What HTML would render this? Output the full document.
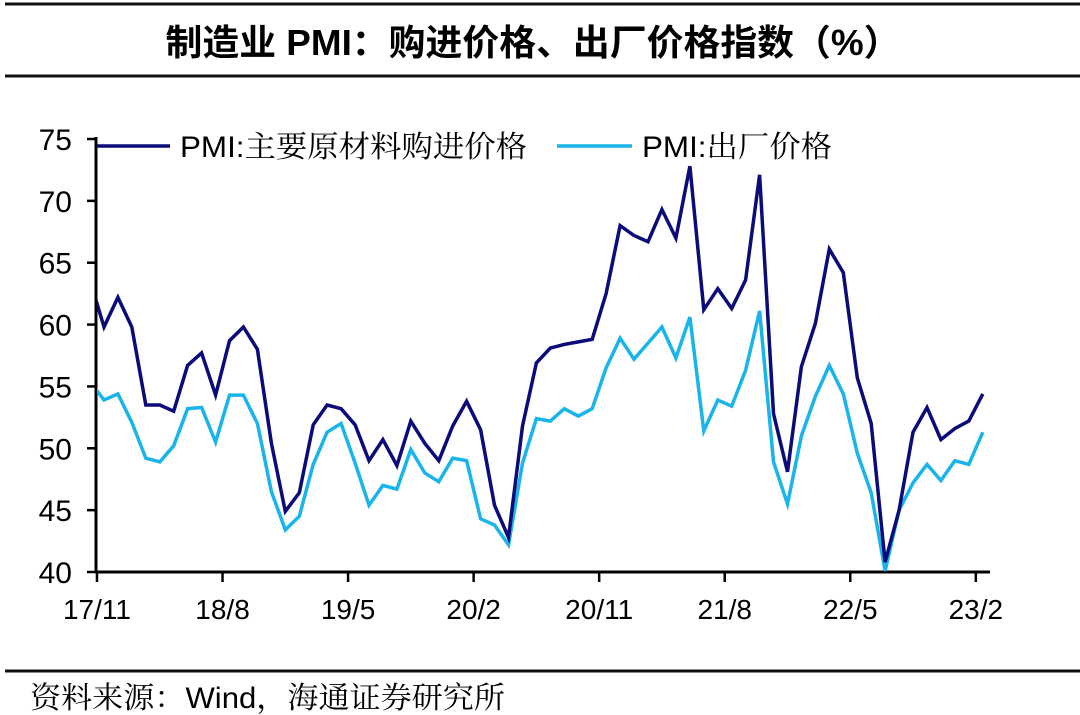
<!DOCTYPE html>
<html><head><meta charset="utf-8"><style>
html,body{margin:0;padding:0;background:#fff;width:1080px;height:715px;overflow:hidden}
svg{display:block}
text{font-family:"Liberation Sans","Noto Sans CJK SC",sans-serif;fill:#000}
.cjk{font-family:"Liberation Sans","Noto Serif CJK SC","Noto Sans CJK SC",serif}
</style></head><body>
<svg id="chart" width="1080" height="715" viewBox="0 0 1080 715">
<line x1="5" y1="4" x2="1080" y2="4" stroke="#111" stroke-width="3"/>
<text x="533" y="55" text-anchor="middle" font-size="36" font-weight="bold" textLength="735" lengthAdjust="spacingAndGlyphs">制造业 PMI：购进价格、出厂价格指数（%）</text>
<line x1="5" y1="76" x2="1080" y2="76" stroke="#111" stroke-width="3"/>
<line x1="5" y1="671" x2="1080" y2="671" stroke="#111" stroke-width="3"/>
<text class="cjk" x="30" y="708" font-size="30" textLength="475" lengthAdjust="spacingAndGlyphs">资料来源：Wind，海通证券研究所</text>
<g id="axes"></g>
<g id="series"></g>
<g>
<line x1="97" y1="146" x2="170" y2="146" stroke="#0b0b7a" stroke-width="3.5"/>
<text class="cjk" x="180" y="157" font-size="30" textLength="347" lengthAdjust="spacingAndGlyphs">PMI:主要原材料购进价格</text>
<line x1="557" y1="146" x2="632" y2="146" stroke="#19b4ea" stroke-width="3.5"/>
<text class="cjk" x="642" y="157" font-size="30" textLength="190" lengthAdjust="spacingAndGlyphs">PMI:出厂价格</text>
</g>
</svg>
<script>
const tickLabels = ["17/11","18/8","19/5","20/2","20/11","21/8","22/5","23/2"];
const yTicks = [40,45,50,55,60,65,70,75];
const purchase = [63.6,59.8,62.2,59.8,53.5,53.5,53.0,56.7,57.7,54.3,58.7,59.8,58.0,50.4,44.9,46.4,51.9,53.5,53.2,51.9,49.0,50.7,48.6,52.2,50.4,49.0,51.8,53.8,51.5,45.4,42.8,51.8,56.9,58.1,58.4,58.6,58.8,62.5,68.0,67.2,66.7,69.3,67.0,72.8,61.2,62.9,61.3,63.6,72.1,52.8,48.1,56.6,60.1,66.1,64.2,55.7,52.0,40.8,45.0,51.3,53.3,50.7,51.6,52.2,54.4];
const output = [55.4,53.9,54.4,52.1,49.2,48.9,50.2,53.2,53.3,50.5,54.3,54.3,52.0,46.5,43.4,44.5,48.7,51.3,52.0,48.8,45.4,47.0,46.7,49.9,48.0,47.3,49.2,49.0,44.3,43.8,42.2,48.8,52.4,52.2,53.2,52.6,53.2,56.5,58.9,57.2,58.5,59.8,57.3,60.6,51.4,53.9,53.4,56.3,61.1,48.9,45.5,51.0,54.2,56.7,54.4,49.6,46.4,40.1,45.0,47.2,48.7,47.4,49.0,48.7,51.3];
const NS="http://www.w3.org/2000/svg";
const X0=90, STEP=13.95, YTOP=139, YBOT=572, VMIN=40, VMAX=75, AX=96;
const xs=i=>X0+STEP*i;
const ys=v=>YBOT-(v-VMIN)/(VMAX-VMIN)*(YBOT-YTOP);
function mk(tag,attrs,parent){const e=document.createElementNS(NS,tag);for(const k in attrs)e.setAttribute(k,attrs[k]);parent.appendChild(e);return e;}
const axes=document.getElementById('axes');
const ya=mk('line',{x1:AX,y1:YTOP-2,x2:AX,y2:YBOT,stroke:'#000','stroke-width':3},axes);


const xa=mk('line',{x1:AX-1,y1:YBOT,x2:990,y2:YBOT,stroke:'#000','stroke-width':3},axes);


yTicks.forEach(v=>{
  const y=ys(v);
  const t=mk('line',{x1:AX-9,y1:y,x2:AX,y2:y,stroke:'#000','stroke-width':2.5},axes);
  
  
  const l=mk('text',{x:72,y:y+11,'text-anchor':'end','font-size':30},axes);
  l.textContent=v;
  
  
});
tickLabels.forEach((lab,k)=>{
  const x=xs(1+9*k-0.5);
  const t=mk('line',{x1:x,y1:YBOT,x2:x,y2:YBOT+10,stroke:'#000','stroke-width':2.5},axes);
  
  
  const l=mk('text',{x:x,y:619,'text-anchor':'middle','font-size':28},axes);
  l.textContent=lab;
  
  
});
const defs=mk('defs',{},document.getElementById('chart'));
const cp=mk('clipPath',{id:'plotclip'},defs);
mk('rect',{x:AX+1,y:100,width:900,height:480},cp);
const sg=document.getElementById('series');
sg.setAttribute('clip-path','url(#plotclip)');
function line(data,color,name){
  const p=mk('polyline',{points:data.map((v,i)=>xs(i).toFixed(1)+','+ys(v).toFixed(1)).join(' '),fill:'none',stroke:color,'stroke-width':3.5,'stroke-linejoin':'miter'},sg);
  
  
}
line(output,'#19b4ea','output-price-line');
line(purchase,'#0b0b7a','purchase-price-line');
</script>
</body></html>
